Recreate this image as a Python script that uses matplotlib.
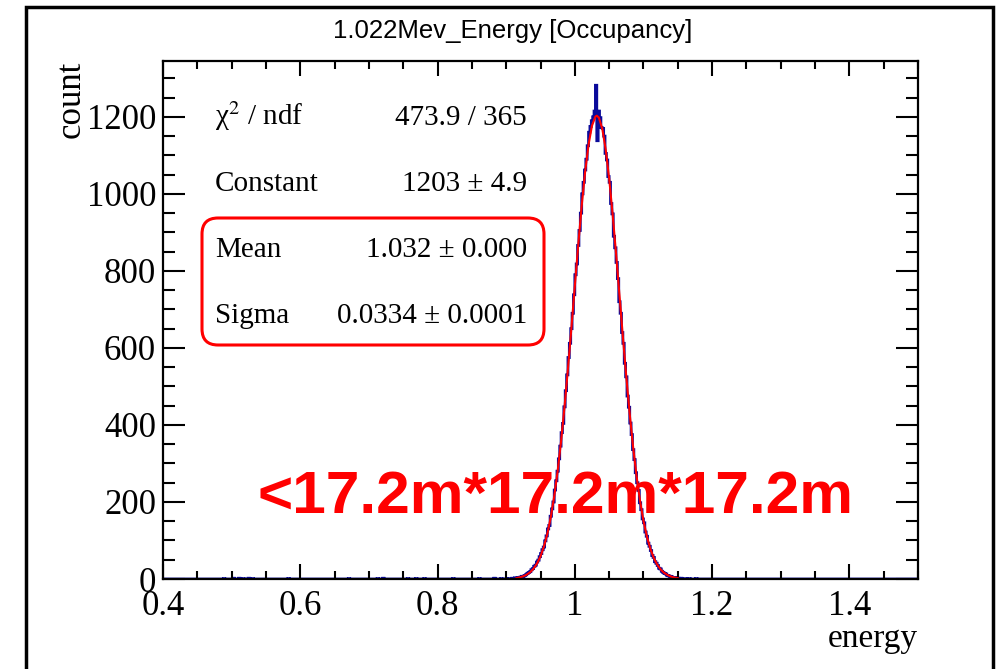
import numpy as np
import matplotlib
matplotlib.use("Agg")
import matplotlib.pyplot as plt
from matplotlib.ticker import MultipleLocator
from matplotlib.patches import FancyBboxPatch, Rectangle
from matplotlib.transforms import IdentityTransform

# histogram: counts per 0.002 bin, first bin starts at 0.900
bin_w = 0.002
peak_start = 0.900
peak_counts = [
    1, 0, 1, 1, 2, 2, 3, 2, 4, 4,
    5, 7, 6, 9, 11, 14, 17, 19, 24, 27,
    33, 36, 44, 49, 58, 66, 76, 83, 99, 112,
    130, 139, 163, 182, 200, 231, 255, 280, 312, 345,
    380, 404, 447, 489, 530, 575, 612, 650, 690, 738,
    790, 818, 866, 905, 950, 1000, 1030, 1062, 1090, 1125,
    1160, 1175, 1190, 1200, 1215, 1282, 1138, 1215, 1198, 1172,
    1170, 1150, 1105, 1088, 1045, 1030, 975, 948, 890, 860,
    822, 780, 720, 690, 640, 612, 560, 525, 475, 446,
    405, 375, 336, 310, 276, 250, 230, 198, 180, 156,
    146, 122, 111, 93, 85, 74, 61, 56, 45, 41,
    35, 28, 26, 20, 17, 14, 13, 9, 8, 7,
    6, 4, 4, 3, 2, 2, 1, 2, 0, 1,
    1, 0, 0, 1, 0, 0, 0, 0, 0, 0,
]
# scattered single entries far from the peak
stray_x = [0.489, 0.503, 0.511, 0.517, 0.525, 0.531, 0.583, 0.671, 0.713,
           0.721, 0.757, 0.769, 0.781, 0.823, 0.861, 0.883, 0.893, 1.177]
stray_n = [1, 2, 2, 1, 2, 1, 1, 1, 1, 2, 1, 1, 1, 1, 1, 2, 1, 1]

# gaussian fit curve as drawn (red)
fit_x = [0.915, 0.920, 0.925, 0.930, 0.935, 0.940, 0.945, 0.950, 0.955, 0.960,
         0.965, 0.970, 0.975, 0.980, 0.985, 0.990, 0.995, 1.000, 1.005, 1.010,
         1.015, 1.020, 1.025, 1.030, 1.032, 1.035, 1.040, 1.045, 1.050, 1.055,
         1.060, 1.065, 1.070, 1.075, 1.080, 1.085, 1.090, 1.095, 1.100, 1.105,
         1.110, 1.115, 1.120, 1.125, 1.130, 1.135, 1.140, 1.145, 1.150]
fit_y = [2.6, 4.3, 7.1, 11.4, 17.7, 27.1, 40.4, 59.0, 84.4, 117.7,
         160.8, 214.8, 280.3, 358.0, 447.0, 545.9, 651.2, 760.3, 867.8, 968.3,
         1056.8, 1127.8, 1176.9, 1200.8, 1203.0, 1198.2, 1169.0, 1115.2, 1040.4, 949.0,
         846.6, 738.4, 629.8, 525.2, 428.4, 341.7, 266.4, 203.1, 151.5, 110.4,
         78.7, 54.9, 37.4, 24.9, 16.3, 10.4, 6.5, 3.9, 2.3]

x_ticks = [0.4, 0.6, 0.8, 1.0, 1.2, 1.4]
x_labels = ["0.4", "0.6", "0.8", "1", "1.2", "1.4"]
y_ticks = [0, 200, 400, 600, 800, 1000, 1200]
y_labels = ["0", "200", "400", "600", "800", "1000", "1200"]

stats_names = ["\u03c7$^{2}$ / ndf", "Constant", "Mean", "Sigma"]
stats_values = ["473.9 / 365", "1203 \u00b1 4.9", "1.032 \u00b1 0.000", "0.0334 \u00b1 0.0001"]

# build full histogram over 0.4 - 1.5
x_lo, x_hi = 0.4, 1.5
nbins = int(round((x_hi - x_lo) / bin_w))
edges = x_lo + bin_w * np.arange(nbins + 1)
counts = np.zeros(nbins)
i0 = int(round((peak_start - x_lo) / bin_w))
counts[i0:i0 + len(peak_counts)] = peak_counts
for sx, sn in zip(stray_x, stray_n):
    counts[int((sx - x_lo) / bin_w)] += sn

plt.rcParams['mathtext.fontset'] = 'stix'
serif = ['Liberation Serif', 'DejaVu Serif']

W, H = 998, 669
fig = plt.figure(figsize=(W / 100, H / 100), dpi=100)
fig.patch.set_facecolor('white')
ax = fig.add_axes([163 / W, 1 - 579 / H, (918 - 163) / W, (579 - 61) / H])

ax.stairs(counts, edges, color='#0a0a9a', lw=2.0)
ax.plot(fit_x, fit_y, color='#ff0000', lw=1.5)

ax.set_xlim(x_lo, x_hi)
ax.set_ylim(0, 1345)
ax.set_xticks(x_ticks)
ax.set_xticklabels(x_labels, fontfamily=serif, fontsize=25)
ax.set_yticks(y_ticks)
ax.set_yticklabels(y_labels, fontfamily=serif, fontsize=25)
ax.xaxis.set_minor_locator(MultipleLocator(0.05))
ax.yaxis.set_minor_locator(MultipleLocator(50))
ax.tick_params(axis='x', which='major', direction='in', length=11, width=1.5,
               top=True, pad=8)
ax.tick_params(axis='x', which='minor', direction='in', length=6, width=1.5, top=True)
ax.tick_params(axis='y', which='major', direction='in', length=16, width=1.5,
               right=True, pad=5)
ax.tick_params(axis='y', which='minor', direction='in', length=8.5, width=1.5, right=True)
for s in ax.spines.values():
    s.set_linewidth(1.6)

# axis titles, ROOT style
fig.text(71 / W, 1 - 61 / H, "count", rotation=90, ha='center', va='top',
         fontfamily=serif, fontsize=25)
fig.text(918 / W, 1 - 647 / H, "energy", ha='right', va='baseline',
         fontfamily=serif, fontsize=24)
fig.text(513 / W, 1 - 31 / H, "1.022Mev_Energy [Occupancy]", ha='center', va='center',
         fontfamily=['Liberation Sans Narrow', 'Liberation Sans'], fontsize=18.5)

# fit statistics
px = IdentityTransform()
for k, (name, val) in enumerate(zip(stats_names, stats_values)):
    yb = H - (125 + 66 * k)
    fig.text(215, yb, name, transform=px, ha='left', va='baseline',
             fontfamily=serif, fontsize=21)
    fig.text(527, yb, val, transform=px, ha='right', va='baseline',
             fontfamily=serif, fontsize=21)

box = FancyBboxPatch((202, H - 345), 342, 127, boxstyle='round,pad=0,rounding_size=16',
                     transform=px, fill=False, edgecolor='#ff0000', lw=2.2)
fig.patches.append(box)

fig.text(555, H - 513, "<17.2m*17.2m*17.2m", transform=px, ha='center', va='baseline',
         color='#ff0000', fontweight='bold', fontfamily=['Liberation Sans', 'DejaVu Sans'],
         fontsize=43.5)

# outer frame
frame = Rectangle((26, -20), 967, H - 7 + 20, transform=px, fill=False,
                  edgecolor='black', lw=2.5)
fig.patches.append(frame)

fig.savefig("out.png", dpi=100)
